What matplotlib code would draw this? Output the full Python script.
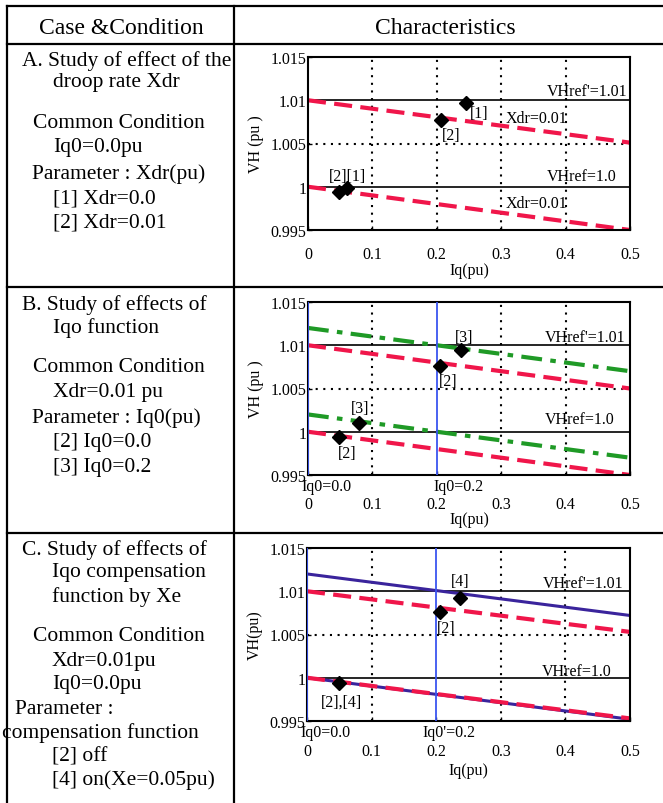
import matplotlib
matplotlib.use('Agg')
import matplotlib.pyplot as plt
from matplotlib.lines import Line2D

plt.rcParams['font.family'] = ['Liberation Serif', 'DejaVu Serif']
plt.rcParams['lines.scale_dashes'] = False

W, H = 663, 804

# ---- data ----
iq_ends = [0.0, 0.5]
vh_ref = [1.01, 1.0]
iq0_lines = [0.0, 0.2]

a_droop_hi = [1.010, 1.0051]
a_droop_lo = [1.000, 0.9950]
a_pts_x = [0.246, 0.207, 0.048, 0.061]
a_pts_y = [1.0097, 1.0077, 0.9994, 0.9998]

b_droop_hi = [1.010, 1.0050]
b_droop_lo = [1.000, 0.9950]
b_iq0_hi = [1.012, 1.0070]
b_iq0_lo = [1.002, 0.9970]
b_pts_x = [0.238, 0.205, 0.079, 0.048]
b_pts_y = [1.0094, 1.0076, 1.0010, 0.9994]

c_droop_hi = [1.010, 1.0053]
c_droop_lo = [1.000, 0.9953]
c_comp_hi = [1.012, 1.0072]
c_comp_lo = [1.000, 0.9952]
c_pts_x = [0.237, 0.206, 0.049]
c_pts_y = [1.0092, 1.0076, 0.9994]

x_ticks = [0, 0.1, 0.2, 0.3, 0.4, 0.5]
x_ticklabels = ['0', '0.1', '0.2', '0.3', '0.4', '0.5']
y_ticks = [0.995, 1.0, 1.005, 1.01, 1.015]
y_ticklabels = ['0.995', '1', '1.005', '1.01', '1.015']

RED = '#f0164a'
GREEN = '#1f9a26'
NAVY = '#3a249c'
BLUE = '#3a55f0'
FS = 11.5

fig = plt.figure(figsize=(W / 100, H / 100), dpi=100)


def fx(x):
    return x / W


def fy(y):
    return 1 - y / H


# table rules
for y in [7, 45, 288, 534]:
    fig.add_artist(Line2D([fx(7), 1], [fy(y), fy(y)], color='black', lw=1.6))
for x in [7, 234]:
    fig.add_artist(Line2D([fx(x), fx(x)], [fy(7), 0], color='black', lw=1.6))

fig.text(fx(121), fy(29), 'Case &Condition', fontsize=17, ha='center', va='center')
fig.text(fx(445), fy(29), 'Characteristics', fontsize=17, ha='center', va='center')

left_text = [
    (22, 61, 'A. Study of effect of the'), (53, 83, 'droop rate Xdr'),
    (33, 123, 'Common Condition'), (53, 148, 'Iq0=0.0pu'),
    (32, 174, 'Parameter : Xdr(pu)'), (53, 199, '[1] Xdr=0.0'),
    (53, 223, '[2] Xdr=0.01'),
    (22, 305, 'B. Study of effects of'), (53, 328, 'Iqo function'),
    (33, 368, 'Common Condition'), (53, 393, 'Xdr=0.01 pu'),
    (32, 418, 'Parameter : Iq0(pu)'), (53, 443, '[2] Iq0=0.0'),
    (53, 468, '[3] Iq0=0.2'),
    (22, 550, 'C. Study of effects of'), (52, 573, 'Iqo compensation'),
    (52, 597, 'function by Xe'), (33, 637, 'Common Condition'),
    (52, 662, 'Xdr=0.01pu'), (52, 685, 'Iq0=0.0pu'),
    (15, 710, 'Parameter :'), (2, 733, 'compensation function'),
    (52, 757, '[2] off'), (52, 780, '[4] on(Xe=0.05pu)'),
]
for x, y, s in left_text:
    fig.text(fx(x), fy(y), s, fontsize=15.5, ha='left', va='center')


def make_axes(top, left, ylabel, tick_pad, xlab_off, blue):
    ax = fig.add_axes([fx(left), fy(top + 173), fx(630 - left), 173 / H])
    ax.set_xlim(0, 0.5)
    ax.set_ylim(0.995, 1.015)
    ax.set_xticks(x_ticks)
    ax.set_xticklabels(x_ticklabels)
    ax.set_yticks(y_ticks)
    ax.set_yticklabels(y_ticklabels)
    ax.tick_params(direction='in', length=3, labelsize=FS, width=1)
    ax.tick_params(axis='x', pad=tick_pad)
    ax.tick_params(axis='y', pad=1)
    for sp in ax.spines.values():
        sp.set_linewidth(1.5)
    for x in x_ticks[1:-1]:
        if blue and x == 0.2:
            continue
        ax.axvline(x, color='black', lw=1.5, ls=(0, (1.5, 4)), zorder=1)
    ax.axhline(1.005, color='black', lw=1.5, ls=(0, (1.5, 4)), zorder=1)
    for v in vh_ref:
        ax.axhline(v, color='black', lw=1.2, zorder=1)
    if blue:
        for x in iq0_lines:
            ax.axvline(x, color=BLUE, lw=1.3, zorder=5)
    ax.set_ylabel(ylabel, fontsize=FS)
    ax.yaxis.set_label_coords(-0.137, 0.5)
    ax.set_xlabel('Iq(pu)', fontsize=FS)
    ax.xaxis.set_label_coords(0.5, xlab_off)
    return ax


dash = (0, (13, 6))
dashdot = (0, (15, 6, 4, 6))

# ---- A ----
ax = make_axes(58, 308, 'VH (pu )', 11.7, -0.185, False)
ax.plot(iq_ends, a_droop_hi, color=RED, lw=3, ls=dash)
ax.plot(iq_ends, a_droop_lo, color=RED, lw=3, ls=dash)
ax.plot(a_pts_x, a_pts_y, ls='none', marker='D', ms=7, color='black', zorder=6)
ax.text(0.266, 1.0085, '[1]', fontsize=FS, ha='center', va='center')
ax.text(0.223, 1.0060, '[2]', fontsize=FS, ha='center', va='center')
ax.text(0.062, 1.0013, '[2][1]', fontsize=FS, ha='center', va='center')
ax.text(0.355, 1.0080, 'Xdr=0.01', fontsize=FS, ha='center', va='center')
ax.text(0.355, 0.9981, 'Xdr=0.01', fontsize=FS, ha='center', va='center')
ax.text(0.433, 1.0111, "VHref'=1.01", fontsize=FS, ha='center', va='center')
ax.text(0.425, 1.0013, 'VHref=1.0', fontsize=FS, ha='center', va='center')

# ---- B ----
ax = make_axes(303, 308, 'VH (pu )', 15.3, -0.208, True)
ax.plot(iq_ends, b_droop_hi, color=RED, lw=3, ls=dash)
ax.plot(iq_ends, b_droop_lo, color=RED, lw=3, ls=dash)
ax.plot(iq_ends, b_iq0_hi, color=GREEN, lw=3, ls=dashdot)
ax.plot(iq_ends, b_iq0_lo, color=GREEN, lw=3, ls=dashdot)
ax.plot(b_pts_x, b_pts_y, ls='none', marker='D', ms=7, color='black', zorder=6)
ax.text(0.242, 1.0110, '[3]', fontsize=FS, ha='center', va='center')
ax.text(0.218, 1.0059, '[2]', fontsize=FS, ha='center', va='center')
ax.text(0.081, 1.0028, '[3]', fontsize=FS, ha='center', va='center')
ax.text(0.061, 0.9975, '[2]', fontsize=FS, ha='center', va='center')
ax.text(0.028, 0.9937, 'Iq0=0.0', fontsize=FS, ha='center', va='center')
ax.text(0.233, 0.9937, 'Iq0=0.2', fontsize=FS, ha='center', va='center')
ax.text(0.430, 1.0110, "VHref'=1.01", fontsize=FS, ha='center', va='center')
ax.text(0.422, 1.0015, 'VHref=1.0', fontsize=FS, ha='center', va='center')

# ---- C ----
ax = make_axes(549, 307, 'VH(pu)', 15.8, -0.237, True)
ax.plot(iq_ends, c_comp_hi, color=NAVY, lw=2.2)
ax.plot(iq_ends, c_comp_lo, color=NAVY, lw=2.2)
ax.plot(iq_ends, c_droop_hi, color=RED, lw=3, ls=dash)
ax.plot(iq_ends, c_droop_lo, color=RED, lw=3, ls=dash)
ax.plot(c_pts_x, c_pts_y, ls='none', marker='D', ms=7, color='black', zorder=6)
ax.text(0.237, 1.0112, '[4]', fontsize=FS, ha='center', va='center')
ax.text(0.215, 1.0057, '[2]', fontsize=FS, ha='center', va='center')
ax.text(0.054, 0.9972, '[2],[4]', fontsize=FS, ha='center', va='center')
ax.text(0.028, 0.9937, 'Iq0=0.0', fontsize=FS, ha='center', va='center')
ax.text(0.219, 0.9937, "Iq0'=0.2", fontsize=FS, ha='center', va='center')
ax.text(0.428, 1.0109, "VHref'=1.01", fontsize=FS, ha='center', va='center')
ax.text(0.418, 1.0008, 'VHref=1.0', fontsize=FS, ha='center', va='center')

fig.savefig('out.png', dpi=100)
